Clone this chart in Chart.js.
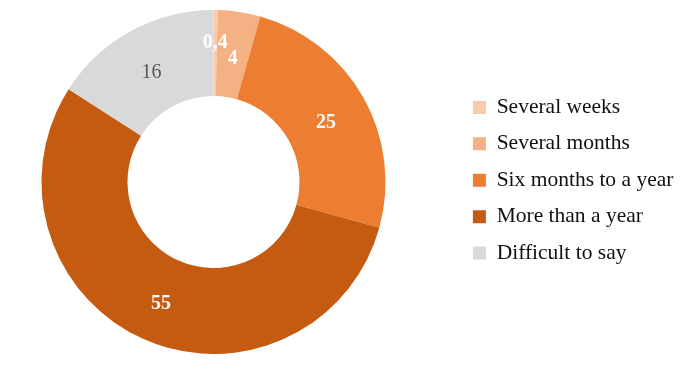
<!DOCTYPE html>
<html>
<head>
<meta charset="utf-8">
<script src="https://cdn.jsdelivr.net/npm/chart.js@4"></script>
<style>
    html, body { margin: 0; padding: 0; background: #fff; }
    #wrap { width: 690px; height: 374px; }
</style>
</head>
<body>
<div id="wrap"><canvas id="show_chart" width="690" height="374"></canvas></div>
<script>
const categories = ['Several weeks', 'Several months', 'Six months to a year', 'More than a year', 'Difficult to say']
const shares = [0.4, 4, 25, 55, 16]
const colors = ['#F8CBAD', '#F4B183', '#ED7D31', '#C55A11', '#D9D9D9']
const labelColors = ['#fff', '#fff', '#fff', '#fff', '#595959']
const labelWeights = ['bold', 'bold', 'bold', 'bold', 'normal']
const labelPush = [14, 0, 0, 0, 0]

const serif = '"Liberation Serif", "Times New Roman", serif'

// ===== VALUE LABELS ON THE SLICES =====
const sliceLabels = {
    id: 'sliceLabels',
    afterDatasetsDraw(chart) {
        const ctx = chart.ctx
        const meta = chart.getDatasetMeta(0)
        ctx.save()
        ctx.textAlign = 'center'
        ctx.textBaseline = 'middle'
        meta.data.forEach((arc, i) => {
            const mid = (arc.startAngle + arc.endAngle) / 2
            const r = (arc.innerRadius + arc.outerRadius) / 2 + labelPush[i]
            const x = arc.x + Math.cos(mid) * r
            const y = arc.y + Math.sin(mid) * r + 4
            ctx.font = labelWeights[i] + ' 20px ' + serif
            ctx.fillStyle = labelColors[i]
            ctx.fillText(String(shares[i]).replace('.', ','), x, y)
        })
        ctx.restore()
    }
}

// ===== LEGEND PLACEMENT =====
const legendBox = {
    id: 'legendBox',
    beforeLayout(chart) {
        const legend = chart.legend
        if (legend._fixed) return
        const fit = legend.fit
        legend.fit = function () {
            fit.call(this)
            this.width = 263
        }
        legend._fixed = true
    },
    afterLayout(chart) {
        chart.legend.left += 31
        chart.legend.top -= 3.5
    }
}

const ctx = document.querySelector('#show_chart').getContext('2d')

new Chart(ctx, {
    type: 'doughnut',
    data: {
        labels: categories,
        datasets: [
            {
                data: shares,
                backgroundColor: colors,
                borderWidth: 0
            }
        ]
    },
    options: {
        responsive: false,
        animation: false,
        cutout: '50%',
        radius: 172,
        layout: {
            padding: { top: 10, bottom: 20, left: 0, right: 0 }
        },
        plugins: {
            legend: {
                position: 'right',
                labels: {
                    boxWidth: 13,
                    boxHeight: 13,
                    padding: 14.9,
                    color: '#111',
                    font: { family: serif, size: 21.5 }
                }
            },
            tooltip: { enabled: false }
        }
    },
    plugins: [sliceLabels, legendBox]
})
</script>
</body>
</html>
